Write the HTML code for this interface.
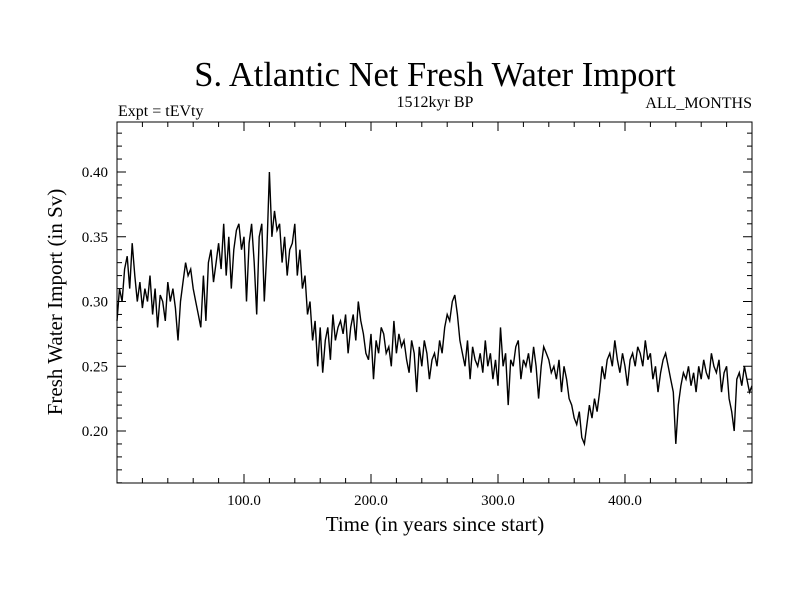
<!DOCTYPE html>
<html><head><meta charset="utf-8"><style>
body{margin:0;background:#fff;}
svg text{font-family:"Liberation Serif",serif;fill:#000;}
</style></head><body>
<svg id="chart" width="800" height="600" xmlns="http://www.w3.org/2000/svg">
<text x="435" y="86" font-size="34.5" text-anchor="middle">S. Atlantic Net Fresh Water Import</text>
<text x="118" y="116" font-size="16">Expt = tEVty</text>
<text x="435" y="107" font-size="16" text-anchor="middle">1512kyr BP</text>
<text x="752" y="108" font-size="16" text-anchor="end">ALL_MONTHS</text>
<text x="435" y="531" font-size="21" text-anchor="middle">Time (in years since start)</text>
<text x="0" y="0" font-size="21" text-anchor="middle" transform="translate(62,302) rotate(-90)">Fresh Water Import (in Sv)</text>
<rect x="117" y="122" width="635" height="361" fill="none" stroke="#000" stroke-width="1"/>
<g id="axes"></g>
<path id="series" fill="none" stroke="#000" stroke-width="1.4"/>
</svg>
<script>
const xTicks=[100,200,300,400];
const xTickLabels=["100.0","200.0","300.0","400.0"];
const yTicks=[0.20,0.25,0.30,0.35,0.40];
const yTickLabels=["0.20","0.25","0.30","0.35","0.40"];
const yearStep=2;
const values=[0.285,0.31,0.30,0.325,0.335,0.31,0.345,0.32,0.30,0.315,
0.295,0.31,0.30,0.32,0.29,0.31,0.28,0.305,0.30,0.285,0.315,0.30,0.31,0.295,0.27,
0.30,0.315,0.33,0.32,0.325,
0.31,0.30,0.29,0.28,0.32,
0.285,0.33,0.34,0.315,0.33,0.345,0.325,0.36,0.32,0.35,0.31,0.34,0.355,0.36,0.34,
0.35,0.30,0.345,0.36,0.33,0.29,0.35,0.36,0.30,0.34,
0.40,
0.35,0.37,0.355,0.36,0.33,0.35,0.32,0.34,0.345,0.36,0.32,0.34,
0.31,0.32,0.29,0.30,0.27,0.285,0.25,0.28,0.245,0.27,0.28,0.255,
0.29,0.27,0.28,0.285,0.275,0.29,0.26,0.28,0.29,0.27,0.30,0.285,0.275,0.26,0.255,
0.275,0.24,0.27,0.26,0.28,0.275,0.26,0.265,0.25,0.285,0.26,0.275,0.265,0.27,0.255,0.245,0.27,0.26,0.23,0.265,0.25,0.27,0.26,0.24,0.255,0.26,0.25,0.27,0.26,0.28,
0.29,0.285,0.30,0.305,0.29,0.27,0.26,
0.25,0.27,0.24,0.265,0.255,0.25,0.26,0.245,0.27,0.25,0.26,0.24,0.255,0.235,0.28,0.25,0.26,0.22,0.255,0.25,0.265,0.27,0.24,0.255,0.25,0.26,0.245,0.265,0.25,0.225,0.25,0.265,0.26,0.255,0.245,0.25,0.24,0.255,
0.23,0.25,0.24,0.225,0.22,0.21,0.205,0.215,0.195,0.19,0.205,0.22,0.21,0.225,0.215,
0.23,0.25,0.24,0.255,0.26,0.25,0.27,0.255,0.245,0.26,0.25,0.235,0.255,0.26,0.25,0.265,0.26,0.25,0.27,0.255,0.26,0.24,0.25,0.23,0.245,0.255,0.26,0.25,0.24,0.23,
0.19,0.22,0.235,
0.245,0.24,0.25,0.235,0.245,0.23,0.25,0.24,0.255,0.245,0.24,0.26,0.25,0.245,0.255,0.23,0.245,0.25,0.225,0.215,0.20,0.24,0.245,0.235,0.25,0.24,0.23,0.235];
const X0=117,X1=752,Y0=122,Y1=483,XMIN=0,XMAX=500;
const YA=0.40,YAp=172,YB=0.20,YBp=431;
function xs(v){return X0+(v-XMIN)/(XMAX-XMIN)*(X1-X0);}
function ys(v){return YBp+(v-YB)/(YA-YB)*(YAp-YBp);}
const NS="http://www.w3.org/2000/svg";
const g=document.getElementById('axes');
function ln(x1,y1,x2,y2,name){const l=document.createElementNS(NS,'line');
l.setAttribute('x1',x1);l.setAttribute('y1',y1);l.setAttribute('x2',x2);l.setAttribute('y2',y2);l.setAttribute('stroke','#000');


g.appendChild(l);}
function tx(x,y,s,anchor,name){const t=document.createElementNS(NS,'text');
t.setAttribute('x',x);t.setAttribute('y',y);t.setAttribute('font-size','15');t.setAttribute('text-anchor',anchor);t.textContent=s;


g.appendChild(t);}
for(let v=20;v<XMAX;v+=20){const x=xs(v);const major=v%100===0;const L=major?9:5;
ln(x,Y1,x,Y1-L,'x-tick');ln(x,Y0,x,Y0+L,'x-tick-top');}
xTicks.forEach((v,i)=>tx(xs(v),505,xTickLabels[i],'middle','x-tick-label'));
for(let k=16;k<=43;k++){const v=k/100;const y=ys(v);if(y<Y0||y>Y1)continue;const major=k%5===0;const L=major?9:5;
ln(X0,y,X0+L,y,'y-tick');ln(X1,y,X1-L,y,'y-tick-right');}
yTicks.forEach((v,i)=>tx(108,ys(v)+5,yTickLabels[i],'end','y-tick-label'));
let d='';values.forEach((v,i)=>{const yr=Math.min(i*yearStep,XMAX);d+=(i?'L':'M')+xs(yr).toFixed(1)+' '+ys(v).toFixed(1);});
document.getElementById('series').setAttribute('d',d);
</script>
</body></html>
